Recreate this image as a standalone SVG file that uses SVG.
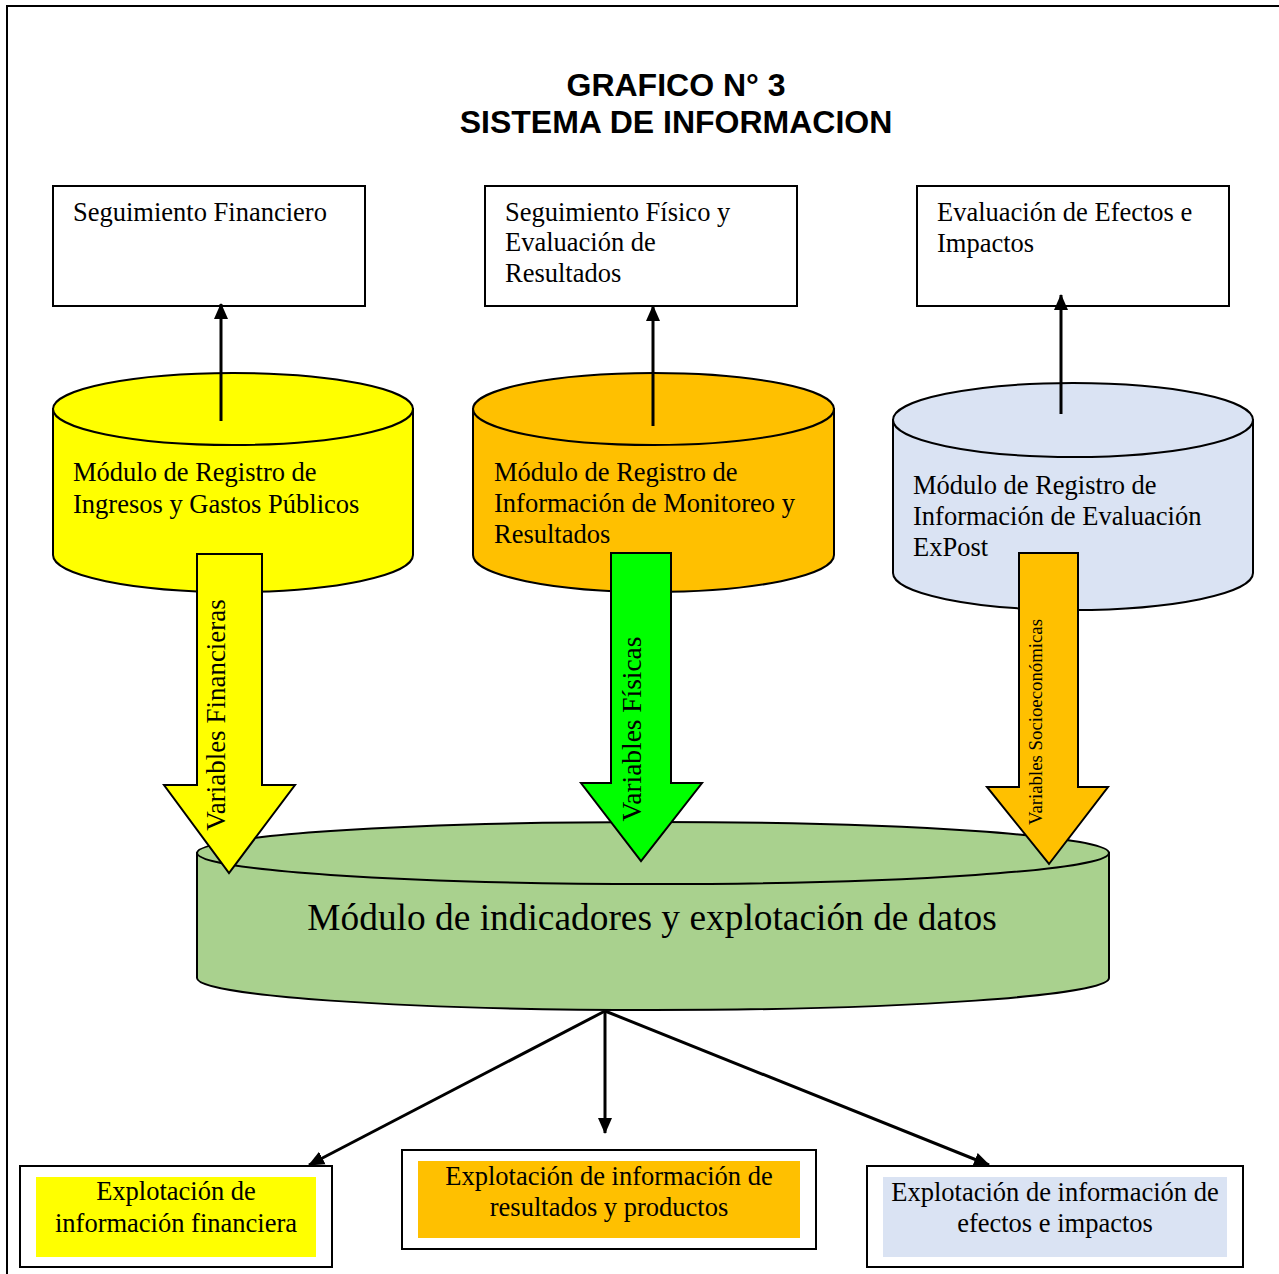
<svg xmlns="http://www.w3.org/2000/svg" width="1279" height="1274" viewBox="0 0 1279 1274">
<defs>
<marker id="ah" markerUnits="userSpaceOnUse" markerWidth="16" markerHeight="16" viewBox="0 0 16 16" refX="15" refY="8" orient="auto">
<path d="M0,1 L16,8 L0,15 Z" fill="#000"/>
</marker>
</defs>
<style>
.t{font-family:"Liberation Serif","Times New Roman",serif;font-size:26.5px;fill:#000}
.ttl{font-family:"Liberation Sans",Arial,sans-serif;font-size:32px;font-weight:bold;fill:#000}
.box{fill:#fff;stroke:#000;stroke-width:2}
.cyl{stroke:#000;stroke-width:2}
.blk{stroke:#000;stroke-width:2;stroke-linejoin:miter}
.ln{stroke:#000;stroke-width:3;fill:none}
</style>
<rect x="7" y="6" width="1290" height="1290" fill="#fff" stroke="#000" stroke-width="2"/>
<g id="title">
<text class="ttl" x="676" y="96" text-anchor="middle">GRAFICO N° 3</text>
<text class="ttl" x="676" y="133" text-anchor="middle">SISTEMA DE INFORMACION</text>
</g>
<g id="box-financiero">
<rect class="box" x="53" y="186" width="312" height="120"/>
<text class="t" x="73" y="221">Seguimiento Financiero</text>
</g>
<g id="box-fisico">
<rect class="box" x="485" y="186" width="312" height="120"/>
<text class="t" x="505" y="221">Seguimiento Físico y</text>
<text class="t" x="505" y="251">Evaluación de</text>
<text class="t" x="505" y="282">Resultados</text>
</g>
<g id="box-efectos">
<rect class="box" x="917" y="186" width="312" height="120"/>
<text class="t" x="937" y="221">Evaluación de Efectos e</text>
<text class="t" x="937" y="252">Impactos</text>
</g>
<g id="cyl-ingresos">
<path class="cyl" fill="#FFFF00" d="M53,409 L53,555 A180,37 0 0 0 413,555 L413,409 Z"/>
<ellipse class="cyl" fill="#FFFF00" cx="233" cy="409" rx="180" ry="36"/>
<text class="t" x="73" y="481">Módulo de Registro de</text>
<text class="t" x="73" y="513">Ingresos y Gastos Públicos</text>
</g>
<g id="cyl-monitoreo">
<path class="cyl" fill="#FFC000" d="M473,409 L473,555 A180.5,37 0 0 0 834,555 L834,409 Z"/>
<ellipse class="cyl" fill="#FFC000" cx="653.5" cy="409" rx="180.5" ry="36"/>
<text class="t" x="494" y="481">Módulo de Registro de</text>
<text class="t" x="494" y="512">Información de Monitoreo y</text>
<text class="t" x="494" y="543">Resultados</text>
</g>
<g id="cyl-expost">
<path class="cyl" fill="#DAE3F3" d="M893,420 L893,573 A180,37 0 0 0 1253,573 L1253,420 Z"/>
<ellipse class="cyl" fill="#DAE3F3" cx="1073" cy="420" rx="180" ry="37"/>
<text class="t" x="913" y="494">Módulo de Registro de</text>
<text class="t" x="913" y="525">Información de Evaluación</text>
<text class="t" x="913" y="556">ExPost</text>
</g>
<g id="cyl-indicadores">
<path class="cyl" fill="#A9D18E" d="M197,853 L197,978 A456,32 0 0 0 1109,978 L1109,853 Z"/>
<ellipse class="cyl" fill="#A9D18E" cx="653" cy="853" rx="456" ry="31"/>
<text class="t" x="652" y="930" text-anchor="middle" style="font-size:37.4px">Módulo de indicadores y explotación de datos</text>
</g>
<g id="arrow-financieras">
<path class="blk" fill="#FFFF00" d="M197,554 L262,554 L262,785 L295,785 L229,873 L164,785 L197,785 Z"/>
<text class="t" transform="translate(225,715) rotate(-90)" text-anchor="middle" style="font-size:27px">Variables Financieras</text>
</g>
<g id="arrow-fisicas">
<path class="blk" fill="#00FF00" d="M611,553 L671,553 L671,783 L702,783 L641,861 L581,783 L611,783 Z"/>
<text class="t" transform="translate(641,729) rotate(-90)" text-anchor="middle" style="font-size:27.4px">Variables Físicas</text>
</g>
<g id="arrow-socio">
<path class="blk" fill="#FFC000" d="M1019,553 L1078,553 L1078,787 L1108,787 L1049,864 L987,787 L1019,787 Z"/>
<text class="t" transform="translate(1042,722) rotate(-90)" text-anchor="middle" style="font-size:18.8px">Variables Socioeconómicas</text>
</g>
<g id="box-exp-fin">
<rect class="box" x="20" y="1166" width="312" height="101"/>
<rect x="36" y="1177" width="280" height="80" fill="#FFFF00"/>
<text class="t" x="176" y="1200" text-anchor="middle">Explotación de</text>
<text class="t" x="176" y="1232" text-anchor="middle">información financiera</text>
</g>
<g id="box-exp-res">
<rect class="box" x="402" y="1150" width="414" height="99"/>
<rect x="418" y="1161" width="382" height="77" fill="#FFC000"/>
<text class="t" x="609" y="1185" text-anchor="middle">Explotación de información de</text>
<text class="t" x="609" y="1216" text-anchor="middle">resultados y productos</text>
</g>
<g id="box-exp-efe">
<rect class="box" x="867" y="1166" width="376" height="101"/>
<rect x="883" y="1177" width="344" height="80" fill="#DAE3F3"/>
<text class="t" x="1055" y="1201" text-anchor="middle">Explotación de información de</text>
<text class="t" x="1055" y="1232" text-anchor="middle">efectos e impactos</text>
</g>
<g id="connectors">
<line class="ln" x1="221" y1="421" x2="221" y2="304" marker-end="url(#ah)"/>
<line class="ln" x1="653" y1="426" x2="653" y2="306" marker-end="url(#ah)"/>
<line class="ln" x1="1061" y1="414" x2="1061" y2="295" marker-end="url(#ah)"/>
<line class="ln" x1="605" y1="1011" x2="309" y2="1165" marker-end="url(#ah)"/>
<line class="ln" x1="605" y1="1011" x2="605" y2="1133" marker-end="url(#ah)"/>
<line class="ln" x1="605" y1="1011" x2="989" y2="1165" marker-end="url(#ah)"/>
</g>
</svg>
